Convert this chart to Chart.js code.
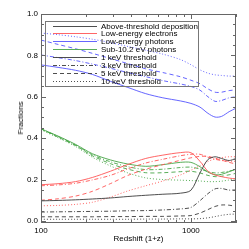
<!DOCTYPE html>
<html><head><meta charset="utf-8">
<script src="https://cdn.jsdelivr.net/npm/chart.js@4"></script>
<style>
html,body{margin:0;padding:0;background:#fff}
#wrap{position:relative;width:249px;height:249px}
#ytitle{position:absolute;left:21px;top:118px;transform:translate(-50%,-50%) rotate(-90deg);font:8px 'Liberation Sans',Arial,sans-serif;color:#000;white-space:nowrap;line-height:1}
</style>
</head><body><div id="wrap"><canvas id="c" width="249" height="249"></canvas><div id="ytitle"></div></div>
<script>
const redshift = [100,130,170,220,290,380,500,650,850,1000,1150,1300,1450,1600,1800,2000];

const above1  = [0.097,0.099,0.102,0.106,0.111,0.118,0.124,0.129,0.134,0.148,0.232,0.297,0.310,0.302,0.292,0.302];
const above3  = [0.043,0.044,0.045,0.046,0.047,0.049,0.050,0.053,0.058,0.065,0.098,0.132,0.155,0.157,0.149,0.150];
const above5  = [0.020,0.020,0.020,0.020,0.021,0.021,0.022,0.022,0.024,0.026,0.038,0.055,0.070,0.077,0.076,0.070];
const above10 = [0.008,0.008,0.008,0.008,0.008,0.008,0.009,0.009,0.010,0.010,0.011,0.015,0.021,0.027,0.032,0.033];

const elec1  = [0.175,0.180,0.190,0.210,0.240,0.273,0.302,0.318,0.330,0.330,0.288,0.240,0.222,0.214,0.207,0.203];
const elec3  = [0.170,0.174,0.182,0.198,0.220,0.252,0.280,0.298,0.315,0.322,0.322,0.308,0.298,0.292,0.289,0.288];
const elec5  = [0.100,0.107,0.120,0.143,0.180,0.220,0.250,0.272,0.293,0.305,0.312,0.312,0.303,0.294,0.283,0.275];
const elec10 = [0.073,0.075,0.080,0.090,0.115,0.145,0.170,0.193,0.222,0.245,0.267,0.287,0.300,0.306,0.310,0.310];

const phot1  = [0.754,0.742,0.728,0.708,0.675,0.645,0.615,0.595,0.580,0.568,0.550,0.520,0.502,0.505,0.528,0.545];
const phot3  = [0.802,0.789,0.775,0.758,0.738,0.717,0.697,0.678,0.662,0.650,0.632,0.600,0.578,0.582,0.595,0.600];
const phot5  = [0.874,0.853,0.832,0.810,0.785,0.760,0.735,0.717,0.697,0.680,0.663,0.638,0.622,0.622,0.630,0.633];
const phot10 = [0.908,0.900,0.890,0.878,0.862,0.843,0.825,0.806,0.780,0.755,0.730,0.714,0.706,0.703,0.700,0.700];

const sub1  = [0.445,0.410,0.370,0.325,0.295,0.275,0.264,0.272,0.283,0.283,0.262,0.236,0.223,0.225,0.238,0.250];
const sub3  = [0.445,0.408,0.367,0.320,0.286,0.262,0.248,0.250,0.258,0.260,0.251,0.238,0.232,0.234,0.241,0.248];
const sub5  = [0.445,0.405,0.364,0.315,0.277,0.250,0.233,0.233,0.238,0.240,0.232,0.220,0.214,0.216,0.223,0.230];
const sub10 = [0.440,0.402,0.360,0.308,0.266,0.232,0.208,0.200,0.197,0.195,0.193,0.190,0.190,0.192,0.198,0.205];

const xMajorTicks = [100, 1000];
const xMinorTicks = [200,300,400,500,600,700,800,900,2000];
const yMajorTicks = [0.0,0.2,0.4,0.6,0.8,1.0];
const yMinorTicks = [0.05,0.1,0.15,0.25,0.3,0.35,0.45,0.5,0.55,0.65,0.7,0.75,0.85,0.9,0.95];

const legendLabels = ['Above-threshold deposition','Low-energy electrons','Low-energy photons','Sub-10.2 eV photons','1 keV threshold','3 keV threshold','5 keV threshold','10 keV threshold'];
const xTitle = 'Redshift (1+z)';
const yTitle = 'Fractions';

const FONT = "'Liberation Sans', Arial, Helvetica, sans-serif";
const C = { black:'#3a3a3a', red:'rgb(255,85,85)', blue:'rgb(85,85,255)', green:'rgb(70,165,70)' };
const DASH = { solid:[], dashdot:[4,2,1,2], dashed:[4,3], dotted:[1,2] };

const legendColors = [C.black, C.red, C.blue, C.green, C.black, C.black, C.black, C.black];
const legendDashes = [DASH.solid, DASH.solid, DASH.solid, DASH.solid, DASH.solid, DASH.dashdot, DASH.dashed, DASH.dotted];

document.getElementById('ytitle').textContent = yTitle;

const pts = arr => redshift.map((z,i) => ({x:z, y:arr[i]}));
const series = [
  [above1,C.black,DASH.solid],[above3,C.black,DASH.dashdot],[above5,C.black,DASH.dashed],[above10,C.black,DASH.dotted],
  [elec1,C.red,DASH.solid],[elec3,C.red,DASH.dashdot],[elec5,C.red,DASH.dashed],[elec10,C.red,DASH.dotted],
  [phot1,C.blue,DASH.solid],[phot3,C.blue,DASH.dashdot],[phot5,C.blue,DASH.dashed],[phot10,C.blue,DASH.dotted],
  [sub1,C.green,DASH.solid],[sub3,C.green,DASH.dashdot],[sub5,C.green,DASH.dashed],[sub10,C.green,DASH.dotted]
];
const datasets = series.map(([arr,col,dash]) => ({
  data: pts(arr), borderColor: col, borderDash: dash, borderWidth: 0.9,
  pointRadius: 0, fill: false, tension: 0.3
}));

const framePlugin = {
  id: 'frame',
  afterDraw(chart) {
    const {ctx, chartArea:{left,right,top,bottom}, scales:{x,y}} = chart;
    ctx.save();
    ctx.strokeStyle = '#666'; ctx.lineWidth = 1; ctx.setLineDash([]);
    ctx.strokeRect(left+0.5, top+0.5, right-left-1, bottom-top-1);
    ctx.beginPath();
    const xt = (v,len) => { const p = Math.round(x.getPixelForValue(v))+0.5; ctx.moveTo(p,bottom); ctx.lineTo(p,bottom-len); ctx.moveTo(p,top); ctx.lineTo(p,top+len); };
    const yt = (v,len) => { const p = Math.round(y.getPixelForValue(v))+0.5; ctx.moveTo(left,p); ctx.lineTo(left+len,p); ctx.moveTo(right,p); ctx.lineTo(right-len,p); };
    xMajorTicks.forEach(v => xt(v,5)); xMinorTicks.forEach(v => xt(v,3));
    yMajorTicks.forEach(v => yt(v,5)); yMinorTicks.forEach(v => yt(v,3));
    ctx.stroke();
    ctx.font = '8px ' + FONT; ctx.fillStyle = '#000';
    const bx = 45.5, by = 21.5, bw = 153, bh = 65;
    ctx.strokeStyle = '#777';
    ctx.strokeRect(bx, by, bw, bh);
    ctx.textBaseline = 'middle'; ctx.textAlign = 'left';
    legendLabels.forEach((lab,i) => {
      const ry = Math.round(25.5 + i*7.9) + 0.5;
      ctx.beginPath(); ctx.strokeStyle = legendColors[i]; ctx.lineWidth = 0.9; ctx.setLineDash(legendDashes[i]);
      ctx.moveTo(53, ry); ctx.lineTo(97, ry); ctx.stroke();
      ctx.setLineDash([]);
      ctx.fillText(lab, 101, ry + 0.5);
    });
    ctx.restore();
  }
};

new Chart(document.getElementById('c'), {
  type: 'line',
  data: { datasets },
  options: {
    responsive: false, animation: false, devicePixelRatio: 1,
    layout: { padding: { left: 0, right: 13, top: 14, bottom: 0 } },
    plugins: { legend: { display: false }, tooltip: { enabled: false } },
    scales: {
      x: {
        type: 'logarithmic', min: 100, max: 2000,
        afterBuildTicks: s => { s.ticks = xMajorTicks.map(v => ({value: v})); },
        ticks: { callback: v => String(v), font: { family: FONT, size: 8 }, color: '#000', padding: 3, maxRotation: 0, autoSkip: false },
        grid: { display: false, drawTicks: false }, border: { display: false },
        title: { display: true, text: xTitle, font: { family: FONT, size: 8 }, color: '#000', padding: { top: 0, bottom: 5 } },
        afterFit: s => { s.height = 26; }
      },
      y: {
        type: 'linear', min: -0.01, max: 1.0,
        afterBuildTicks: s => { s.ticks = yMajorTicks.map(v => ({value: v})); },
        ticks: { callback: v => v.toFixed(1), font: { family: FONT, size: 8 }, color: '#000', padding: 3, autoSkip: false },
        grid: { display: false, drawTicks: false }, border: { display: false },
        title: { display: false },
        afterFit: s => { s.width = 41; }
      }
    }
  },
  plugins: [framePlugin]
});
</script></body></html>
